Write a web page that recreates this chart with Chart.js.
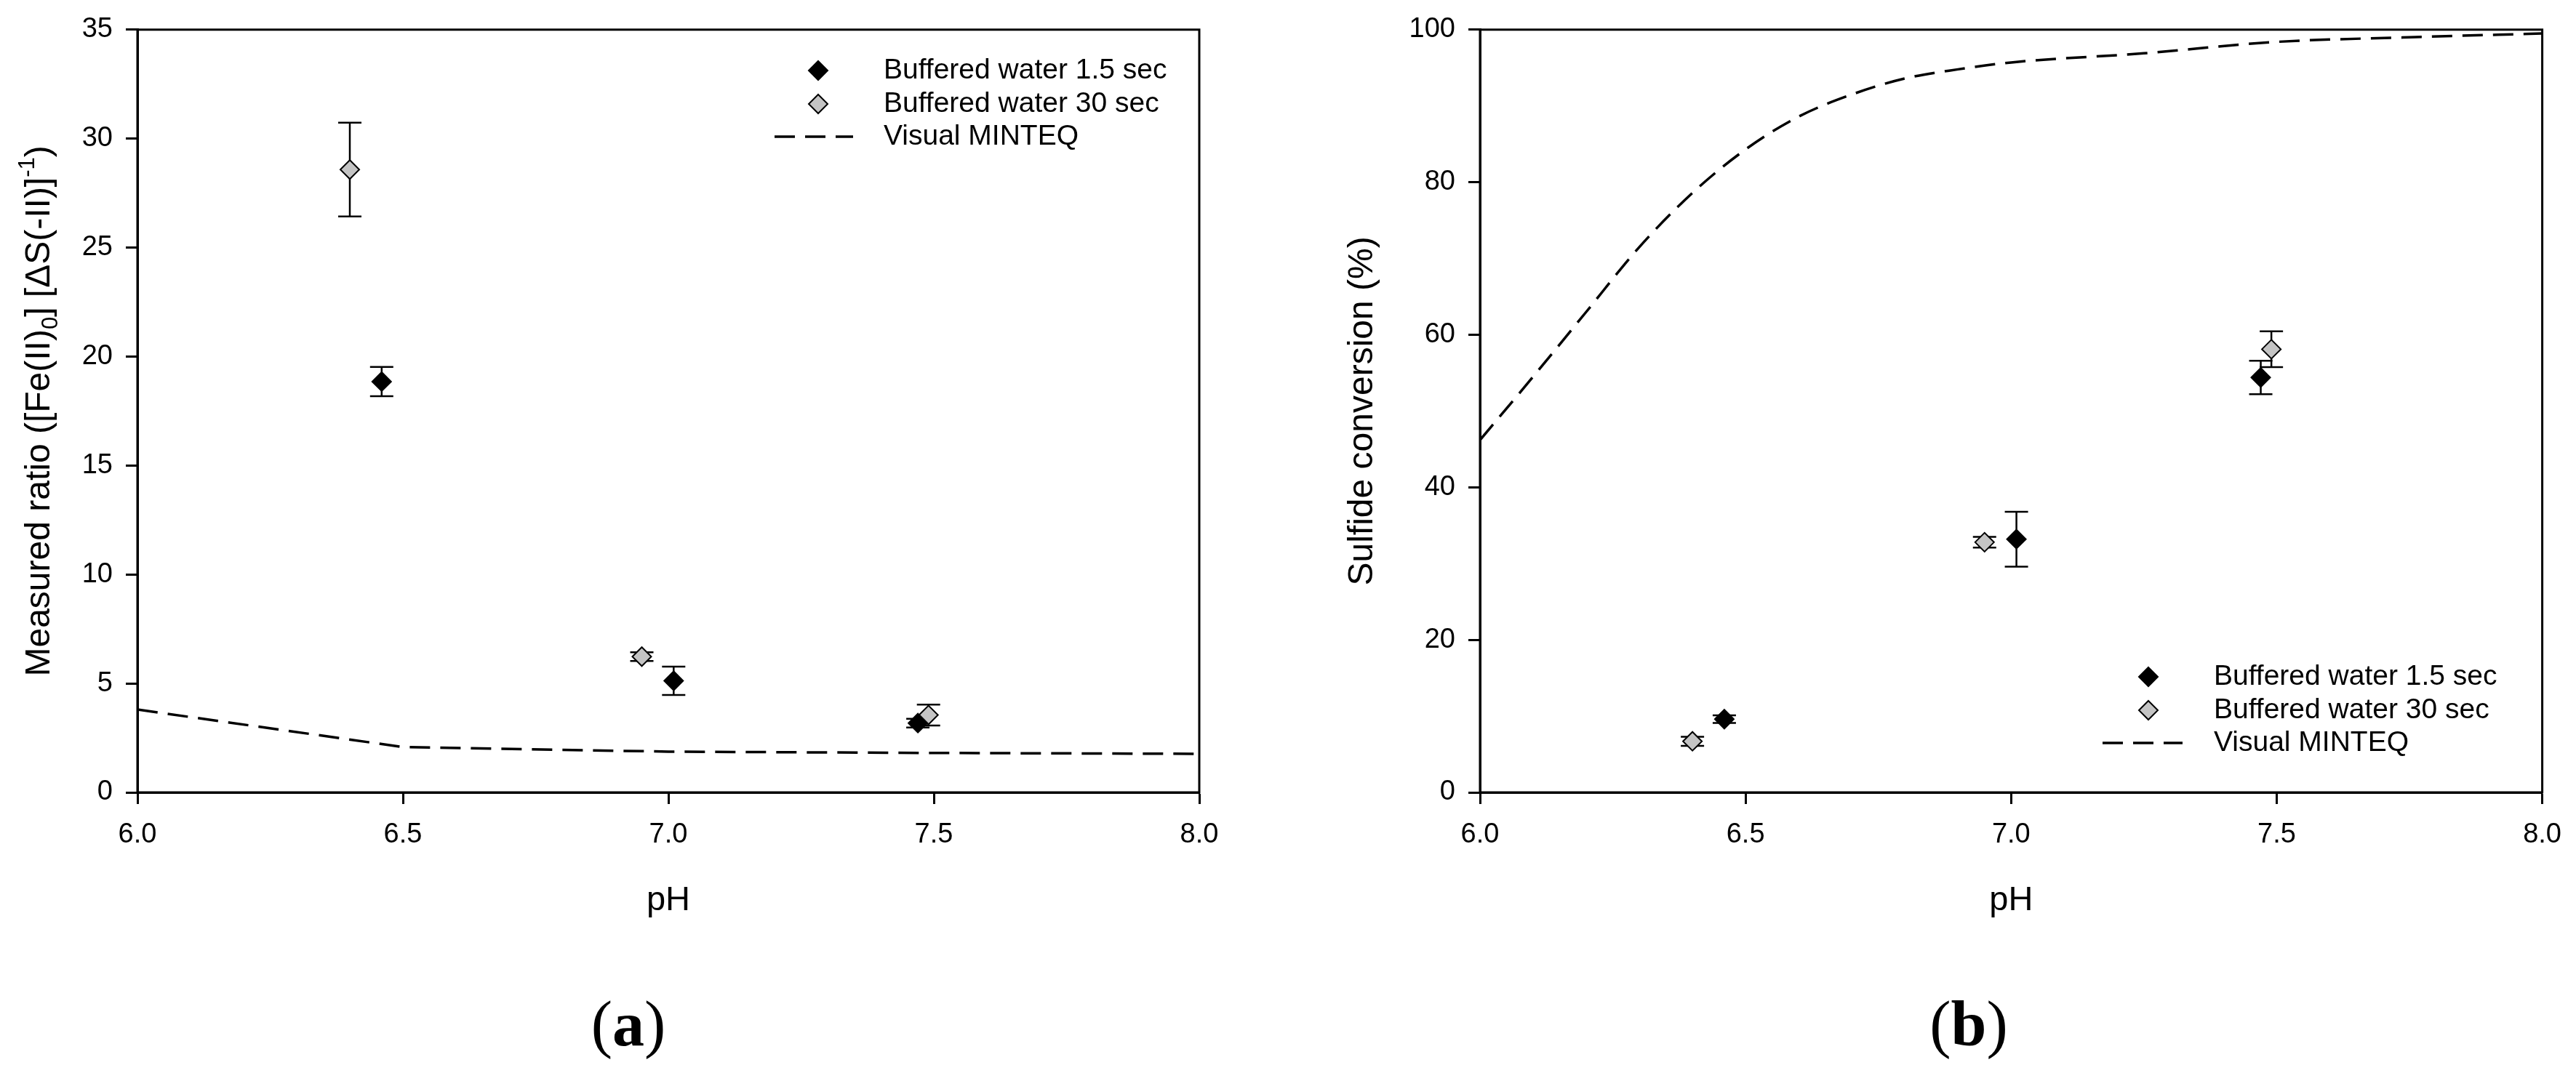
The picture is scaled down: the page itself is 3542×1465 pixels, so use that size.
<!DOCTYPE html>
<html>
<head>
<meta charset="utf-8">
<script src="https://cdn.jsdelivr.net/npm/chart.js@4.4.1/dist/chart.umd.min.js"></script>
<style>
  body { margin: 0; background: #fff; }
  #wrap { position: relative; width: 3542px; height: 1465px; background: #fff; }
  canvas { position: absolute; top: 0; }
</style>
</head>
<body>
<div id="wrap">
  <canvas id="ratio-chart" width="1750" height="1465" style="left:0px"></canvas>
  <canvas id="conv-chart" width="1792" height="1465" style="left:1750px"></canvas>
</div>
<script>
// values
const seriesNames = ["Buffered water 1.5 sec", "Buffered water 30 sec", "Visual MINTEQ"];

const phFast = [6.46, 7.01, 7.47];
const phSlow = [6.40, 6.95, 7.49];

// (a) measured ratio
const ratioFast = [18.85, 5.12, 3.18];
const ratioFastErr = [0.67, 0.65, 0.2];
const ratioSlow = [28.58, 6.23, 3.55];
const ratioSlowErr = [2.15, 0.2, 0.48];
const phModelRatio = [6.0, 6.5, 7.0, 7.5, 8.0];
const ratioModel = [3.8, 2.08, 1.87, 1.81, 1.77];

// (b) sulfide conversion
const convFast = [9.6, 33.2, 54.4];
const convFastErr = [0.5, 3.6, 2.2];
const convSlow = [6.7, 32.8, 58.1];
const convSlowErr = [0.6, 0.7, 2.35];
const phModelConv = [6.0, 6.1, 6.2, 6.3, 6.4, 6.5, 6.6, 6.7, 6.8, 6.9, 7.0, 7.25, 7.5, 7.75, 8.0];
const convModel = [46.2, 54.5, 63.0, 71.5, 78.6, 84.3, 88.6, 91.5, 93.6, 94.8, 95.7, 96.9, 98.4, 99.0, 99.5];

const phTicks = [6.0, 6.5, 7.0, 7.5, 8.0];
const ratioTicks = [0, 5, 10, 15, 20, 25, 30, 35];
const convTicks = [0, 20, 40, 60, 80, 100];

Chart.defaults.font.family = "'Liberation Sans', Arial, sans-serif";
Chart.defaults.color = "#000";

const toPoints = (xs, ys) => xs.map((x, i) => ({ x: x, y: ys[i] }));

const DASH = [28, 14];
const GRAY = "#c4c4c4";

// error bars under the markers
const errorBars = {
  id: "errorBars",
  beforeDatasetsDraw(chart) {
    const ctx = chart.ctx;
    const xs = chart.scales.x, ys = chart.scales.y;
    chart.data.datasets.forEach(ds => {
      if (!ds.yErr) return;
      ds.data.forEach((p, i) => {
        const px = xs.getPixelForValue(p.x);
        const top = ys.getPixelForValue(p.y + ds.yErr[i]);
        const bot = ys.getPixelForValue(p.y - ds.yErr[i]);
        ctx.save();
        ctx.strokeStyle = "#000";
        ctx.lineWidth = 2.5;
        ctx.beginPath();
        ctx.moveTo(px, top); ctx.lineTo(px, bot);
        ctx.moveTo(px - 16, top); ctx.lineTo(px + 16, top);
        ctx.moveTo(px - 16, bot); ctx.lineTo(px + 16, bot);
        ctx.stroke();
        ctx.restore();
      });
    });
  }
};

// frame, legend, titles, panel letter
const decor = {
  id: "decor",
  afterDraw(chart, args, opts) {
    const ctx = chart.ctx;
    const a = chart.chartArea;
    ctx.save();
    ctx.strokeStyle = "#000";
    ctx.lineWidth = 3;
    ctx.strokeRect(a.left, a.top, a.right - a.left, a.bottom - a.top);

    // legend
    ctx.font = "39px 'Liberation Sans', Arial, sans-serif";
    ctx.textBaseline = "middle";
    ctx.textAlign = "left";
    chart.data.datasets.forEach((ds, i) => {
      const y = opts.legendRows[i];
      if (ds.showLine) {
        ctx.beginPath();
        ctx.setLineDash(DASH);
        ctx.lineWidth = 3.5;
        ctx.moveTo(opts.dashFrom, y);
        ctx.lineTo(opts.dashTo, y);
        ctx.stroke();
        ctx.setLineDash([]);
      } else {
        const r = 13, x = opts.markerX;
        ctx.beginPath();
        ctx.moveTo(x, y - r); ctx.lineTo(x + r, y); ctx.lineTo(x, y + r); ctx.lineTo(x - r, y);
        ctx.closePath();
        ctx.fillStyle = ds.backgroundColor;
        ctx.fill();
        ctx.lineWidth = 2;
        ctx.stroke();
      }
      ctx.fillStyle = "#000";
      ctx.fillText(ds.label, opts.textX, y);
    });

    // x title
    ctx.font = "47px 'Liberation Sans', Arial, sans-serif";
    ctx.textAlign = "center";
    ctx.textBaseline = "alphabetic";
    ctx.fillText("pH", (a.left + a.right) / 2, 1252);

    // y title, with sub/superscript pieces
    const big = 48, small = 31;
    ctx.save();
    ctx.translate(opts.yTitleX, (a.top + a.bottom) / 2);
    ctx.rotate(-Math.PI / 2);
    let total = 0;
    opts.yTitle.forEach(p => {
      ctx.font = (p.sub || p.sup ? small : big) + "px 'Liberation Sans', Arial, sans-serif";
      p.w = ctx.measureText(p.t).width;
      total += p.w;
    });
    let x = -total / 2;
    const base = big * 0.36;
    ctx.textAlign = "left";
    opts.yTitle.forEach(p => {
      ctx.font = (p.sub || p.sup ? small : big) + "px 'Liberation Sans', Arial, sans-serif";
      let y = base;
      if (p.sub) y = base + big * 0.22;
      if (p.sup) y = base - big * 0.45;
      ctx.fillText(p.t, x, y);
      x += p.w;
    });
    ctx.restore();

    // panel letter
    const cap = [["(", "normal"], [opts.letter, "bold"], [")", "normal"]];
    let cw = 0;
    cap.forEach(c => { ctx.font = c[1] + " 88px 'Liberation Serif', 'Times New Roman', serif"; c.push(ctx.measureText(c[0]).width); cw += c[2]; });
    let cx = opts.letterX - cw / 2;
    ctx.textAlign = "left";
    cap.forEach(c => {
      ctx.font = c[1] + " 88px 'Liberation Serif', 'Times New Roman', serif";
      ctx.fillText(c[0], cx, 1438);
      cx += c[2];
    });
    ctx.restore();
  }
};

function axisStyle() {
  return {
    grid: { drawOnChartArea: false, drawTicks: true, tickLength: 16, tickWidth: 3, tickColor: "#000" },
    border: { display: true, color: "#000", width: 3 }
  };
}

function makeChart(id, o) {
  return new Chart(document.getElementById(id), {
    type: "scatter",
    data: {
      datasets: [
        {
          label: seriesNames[0],
          data: toPoints(phFast, o.fast),
          yErr: o.fastErr,
          pointStyle: "rectRot",
          pointRadius: 13,
          backgroundColor: "#000",
          borderColor: "#000",
          borderWidth: 2
        },
        {
          label: seriesNames[1],
          data: toPoints(phSlow, o.slow),
          yErr: o.slowErr,
          pointStyle: "rectRot",
          pointRadius: 13,
          backgroundColor: GRAY,
          borderColor: "#000",
          borderWidth: 2
        },
        {
          label: seriesNames[2],
          type: "line",
          data: toPoints(o.modelPh, o.model),
          showLine: true,
          pointRadius: 0,
          borderColor: "#000",
          borderWidth: 3.5,
          borderDash: DASH,
          fill: false,
          cubicInterpolationMode: o.smooth ? "monotone" : "default",
          tension: 0
        }
      ]
    },
    options: {
      responsive: false,
      animation: false,
      layout: { padding: { top: o.top, right: o.right, left: 0, bottom: 0 } },
      plugins: {
        legend: { display: false },
        tooltip: { enabled: false },
        decor: o.decor
      },
      scales: {
        x: Object.assign(axisStyle(), {
          type: "linear",
          min: 6, max: 8,
          afterBuildTicks: s => { s.ticks = phTicks.map(v => ({ value: v })); },
          afterFit: s => { s.height = 375; },
          ticks: { font: { size: 38 }, padding: 20, callback: v => v.toFixed(1) }
        }),
        y: Object.assign(axisStyle(), {
          type: "linear",
          min: 0, max: o.yTicks[o.yTicks.length - 1],
          afterBuildTicks: s => { s.ticks = o.yTicks.map(v => ({ value: v })); },
          afterFit: s => { s.width = o.yWidth; },
          ticks: { font: { size: 38 }, padding: 18 }
        })
      }
    },
    plugins: [errorBars, decor]
  });
}

makeChart("ratio-chart", {
  fast: ratioFast, fastErr: ratioFastErr,
  slow: ratioSlow, slowErr: ratioSlowErr,
  modelPh: phModelRatio, model: ratioModel, smooth: false,
  yTicks: ratioTicks, yWidth: 189, top: 35, right: 101,
  decor: {
    legendRows: [97, 143, 188], markerX: 1125, dashFrom: 1065, dashTo: 1173, textX: 1215,
    yTitleX: 51,
    yTitle: [{ t: "Measured ratio ([Fe(II)" }, { t: "0", sub: true }, { t: "] [ΔS(-II)]" }, { t: "-1", sup: true }, { t: ")" }],
    letter: "a", letterX: 864
  }
});

makeChart("conv-chart", {
  fast: convFast, fastErr: convFastErr,
  slow: convSlow, slowErr: convSlowErr,
  modelPh: phModelConv, model: convModel, smooth: true,
  yTicks: convTicks, yWidth: 285, top: 31, right: 38,
  decor: {
    legendRows: [931, 977, 1022], markerX: 1204, dashFrom: 1141, dashTo: 1251, textX: 1294,
    yTitleX: 120,
    yTitle: [{ t: "Sulfide conversion (%)" }],
    letter: "b", letterX: 957
  }
});
</script>
</body>
</html>
